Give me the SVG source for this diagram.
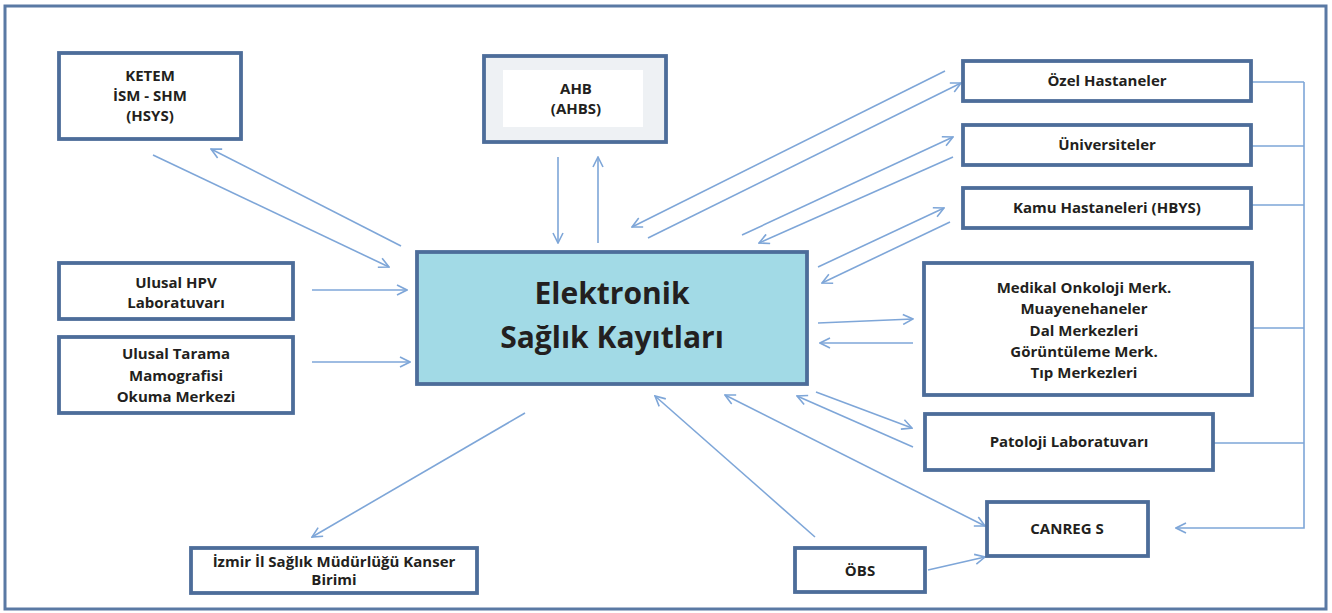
<svg xmlns="http://www.w3.org/2000/svg" width="1332" height="613" viewBox="0 0 1332 613">
<defs>
<style>
.box{fill:#ffffff;stroke:#4d6d9a;stroke-width:3.8}
.center{fill:#a2dae6;stroke:#4d6d9a;stroke-width:3.8}
.t{font-family:"Open Sans","Liberation Sans",sans-serif;font-weight:bold;font-size:15px;fill:#231f20;text-anchor:middle}
.big{font-size:30px}
.c{fill:none;stroke:#7ea6d8;stroke-width:1.6}
.ah{marker-end:url(#arr)}
.both{marker-start:url(#arrs);marker-end:url(#arr)}
</style>
<marker id="arr" viewBox="0 0 12 12" refX="11" refY="6" markerWidth="12" markerHeight="12" markerUnits="userSpaceOnUse" orient="auto">
<path d="M1,1 L11,6 L1,11" fill="none" stroke="#7ea6d8" stroke-width="1.6"/>
</marker>
<marker id="arrs" viewBox="0 0 12 12" refX="1" refY="6" markerWidth="12" markerHeight="12" markerUnits="userSpaceOnUse" orient="auto">
<path d="M11,1 L1,6 L11,11" fill="none" stroke="#7ea6d8" stroke-width="1.6"/>
</marker>
</defs>
<rect x="0" y="0" width="1332" height="613" fill="#ffffff"/>
<rect x="5" y="6" width="1321" height="603" fill="none" stroke="#5a79a4" stroke-width="3"/>

<g id="connectors">
<line class="c ah" x1="153" y1="155" x2="389" y2="267"/>
<line class="c ah" x1="401" y1="246" x2="211" y2="149"/>
<line class="c ah" x1="312" y1="290" x2="407" y2="290"/>
<line class="c ah" x1="312" y1="362" x2="410" y2="362"/>
<line class="c ah" x1="558" y1="157" x2="558" y2="243"/>
<line class="c ah" x1="598" y1="243" x2="598" y2="157"/>
<line class="c ah" x1="945" y1="71" x2="632" y2="227"/>
<line class="c ah" x1="648" y1="238" x2="961" y2="83"/>
<line class="c ah" x1="742" y1="235" x2="953" y2="137"/>
<line class="c ah" x1="953" y1="157" x2="759" y2="243"/>
<line class="c ah" x1="818" y1="267" x2="944" y2="208"/>
<line class="c ah" x1="950" y1="222" x2="822" y2="283"/>
<line class="c ah" x1="818" y1="323" x2="913" y2="319"/>
<line class="c ah" x1="913" y1="343" x2="820" y2="343"/>
<line class="c ah" x1="816" y1="392" x2="912" y2="428"/>
<line class="c ah" x1="913" y1="447" x2="797" y2="396"/>
<line class="c both" x1="725" y1="395" x2="985" y2="526"/>
<line class="c ah" x1="815" y1="537" x2="655" y2="396"/>
<line class="c ah" x1="928" y1="570" x2="985" y2="557"/>
<line class="c ah" x1="525" y1="413" x2="312" y2="537"/>
<path class="c" d="M1251,82 H1304 M1251,146 H1304 M1251,205 H1304 M1252,328 H1304 M1213,443 H1304"/>
<path class="c ah" d="M1304,82 V528 H1176"/>
</g>

<g id="ketem">
<rect class="box" x="59" y="53" width="182" height="86"/>
<text class="t" x="150" y="81">KETEM</text>
<text class="t" x="150" y="101">İSM - SHM</text>
<text class="t" x="150" y="121">(HSYS)</text>
</g>

<g id="ahb">
<rect class="box" x="484" y="56" width="182" height="86" style="fill:#eef1f4"/>
<rect x="503" y="70" width="140" height="57" fill="#ffffff"/>
<text class="t" x="576" y="94">AHB</text>
<text class="t" x="576" y="114">(AHBS)</text>
</g>

<g id="hpv">
<rect class="box" x="59" y="263" width="234" height="56"/>
<text class="t" x="176" y="288">Ulusal HPV</text>
<text class="t" x="176" y="308">Laboratuvarı</text>
</g>

<g id="tarama">
<rect class="box" x="59" y="337" width="234" height="76"/>
<text class="t" x="176" y="359">Ulusal Tarama</text>
<text class="t" x="176" y="381">Mamografisi</text>
<text class="t" x="176" y="402">Okuma Merkezi</text>
</g>

<g id="esk">
<rect class="center" x="417" y="252" width="390" height="132"/>
<text class="t big" x="612" y="304">Elektronik</text>
<text class="t big" x="612" y="348">Sağlık Kayıtları</text>
</g>

<g id="ozel">
<rect class="box" x="963" y="61" width="288" height="40"/>
<text class="t" x="1107" y="86">Özel Hastaneler</text>
</g>

<g id="universiteler">
<rect class="box" x="963" y="125" width="288" height="40"/>
<text class="t" x="1107" y="150">Üniversiteler</text>
</g>

<g id="kamu">
<rect class="box" x="963" y="188" width="288" height="40"/>
<text class="t" x="1107" y="213">Kamu Hastaneleri (HBYS)</text>
</g>

<g id="medikal">
<rect class="box" x="924" y="263" width="328" height="132"/>
<text class="t" x="1084" y="293">Medikal Onkoloji Merk.</text>
<text class="t" x="1084" y="314">Muayenehaneler</text>
<text class="t" x="1084" y="336">Dal Merkezleri</text>
<text class="t" x="1084" y="357">Görüntüleme Merk.</text>
<text class="t" x="1084" y="378">Tıp Merkezleri</text>
</g>

<g id="patoloji">
<rect class="box" x="925" y="414" width="288" height="56"/>
<text class="t" x="1069" y="447">Patoloji Laboratuvarı</text>
</g>

<g id="canreg">
<rect class="box" x="987" y="502" width="161" height="54"/>
<text class="t" x="1067" y="534">CANREG S</text>
</g>

<g id="obs">
<rect class="box" x="795" y="548" width="130" height="44"/>
<text class="t" x="860" y="576">ÖBS</text>
</g>

<g id="izmir">
<rect class="box" x="191" y="548" width="286" height="45"/>
<text class="t" x="334" y="567">İzmir İl Sağlık Müdürlüğü Kanser</text>
<text class="t" x="334" y="585">Birimi</text>
</g>
</svg>
